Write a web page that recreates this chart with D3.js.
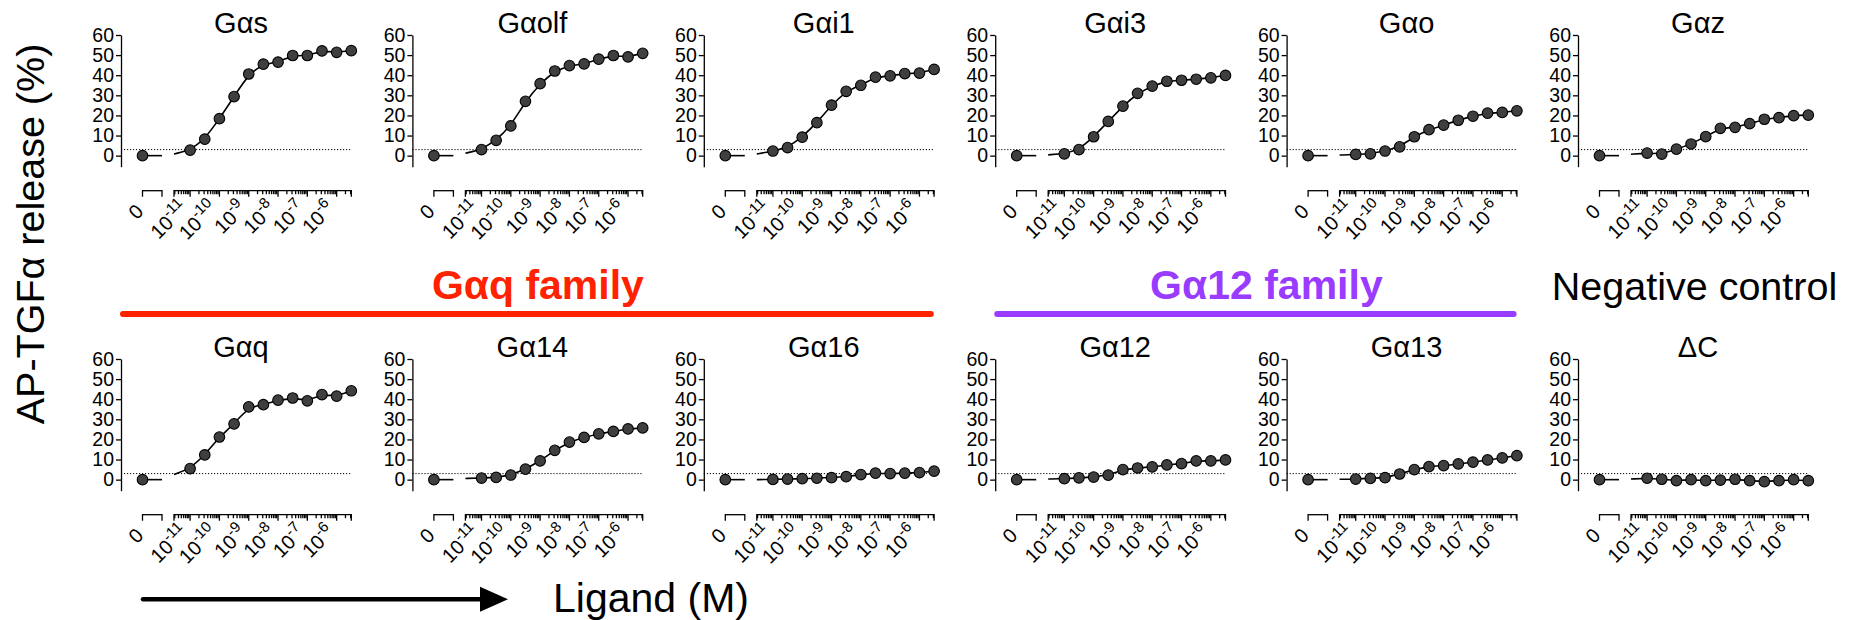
<!DOCTYPE html>
<html>
<head>
<meta charset="utf-8">
<script src="https://cdn.jsdelivr.net/npm/d3@7"></script>
<style>
  html, body { margin: 0; padding: 0; background: #fff; }
  svg { display: block; font-family: "Liberation Sans", Arial, Helvetica, sans-serif; }
</style>
</head>
<body>
<div id="chart"></div>
<script>
// AP-TGFα release dose-response, one small panel per Gα subunit

const panelTitles = ["Gαs", "Gαolf", "Gαi1", "Gαi3", "Gαo", "Gαz",
                     "Gαq", "Gα14", "Gα16", "Gα12", "Gα13", "ΔC"];
const concentrations = [1e-11, 3.16e-11, 1e-10, 3.16e-10, 1e-9, 3.16e-9,
                        1e-8, 3.16e-8, 1e-7, 3.16e-7, 1e-6, 3.16e-6];
const xTickValues = [1e-11, 1e-10, 1e-9, 1e-8, 1e-7, 1e-6];
const xTickExponents = ["-11", "-10", "-9", "-8", "-7", "-6"];
const yTickValues = [0, 10, 20, 30, 40, 50, 60];

// % release at each concentration
const releaseGs   = [2.7, 8.2, 18.4, 29.4, 40.6, 45.5, 46.5, 49.8, 49.8, 52.1, 51.4, 52.2];
const releaseGolf = [3.0, 7.6, 14.8, 27.0, 35.8, 42.1, 44.8, 45.6, 48.0, 49.8, 49.1, 50.9];
const releaseGi1  = [2.3, 4.0, 9.2, 16.4, 25.1, 32.0, 35.0, 39.0, 39.7, 40.8, 41.0, 42.9];
const releaseGi3  = [0.9, 3.0, 9.4, 17.0, 24.6, 31.0, 34.6, 37.0, 37.5, 38.0, 38.7, 39.9];
const releaseGo   = [0.6, 0.9, 2.3, 4.4, 9.4, 12.9, 15.2, 17.6, 19.6, 21.1, 21.5, 22.3];
const releaseGz   = [1.3, 0.8, 3.2, 5.8, 9.5, 13.6, 14.1, 15.9, 18.1, 18.9, 19.9, 20.2];
const releaseGq   = [5.5, 12.3, 21.2, 27.7, 36.2, 37.3, 39.5, 40.6, 39.2, 42.3, 41.5, 44.2];
const releaseG14  = [0.8, 1.1, 2.3, 5.2, 9.3, 14.6, 18.7, 21.0, 22.8, 24.0, 25.2, 25.7];
const releaseG16  = [0.1, 0.3, 0.5, 0.7, 1.0, 1.5, 2.5, 3.2, 3.0, 3.2, 3.5, 4.2];
const releaseG12  = [0.5, 0.9, 1.3, 2.2, 5.0, 5.8, 6.3, 7.3, 8.0, 9.3, 9.3, 9.8];
const releaseG13  = [0.3, 0.6, 1.0, 2.8, 5.0, 6.5, 7.0, 7.8, 8.7, 9.8, 10.8, 11.9];
const releaseDC   = [0.7, 0.2, -0.5, 0.0, -0.5, -0.2, 0.2, -0.5, -1.0, -0.5, 0.0, -0.5];

// vehicle (0 M) point, and the fitted curve's height at the left end of the log axis
const zeroDose = [0, 0, 0, 0, 0, 0, 0, 0, 0, 0, 0, 0];
const fitStart = [0.8, 1.2, 0.8, 0.4, 0.3, 0.7, 2.5, 0.6, 0.0, 0.3, 0.2, 0.3];
const threshold = 3;

const familyLabels = ["Gαq family", "Gα12 family", "Negative control"];
const familyColors = ["#ff2200", "#9a3cff", "#000000"];

const series = [releaseGs, releaseGolf, releaseGi1, releaseGi3, releaseGo, releaseGz,
                releaseGq, releaseG14, releaseG16, releaseG12, releaseG13, releaseDC];

const W = 1849, H = 620;
const colX = d3.range(6).map(i => 121 + i * 291.4);
const rowY = [0, 324];

const svg = d3.select("#chart").append("svg")
    .attr("width", W)
    .attr("height", H);

function drawPanel(g, ax, oy, title, values, zeroVal, startVal) {
    const y = d3.scaleLinear().domain([-5.5, 60]).range([oy + 166.7, oy + 35]);
    const x = d3.scaleLog().domain([Math.pow(10, -11.55), Math.pow(10, -5.5)]).range([ax + 53, ax + 230.3]);
    const xZero = ax + 21.5;
    const zeroEnd = ax + 41;
    const axisY = oy + 190.7;

    // threshold line
    g.append("line")
        .attr("x1", ax).attr("x2", x.range()[1])
        .attr("y1", y(threshold)).attr("y2", y(threshold))
        .attr("stroke", "#000").attr("stroke-width", 1)
        .attr("stroke-dasharray", "1.2 1.8");

    // y axis
    const yAxis = g.append("g")
        .attr("transform", `translate(${ax},0)`)
        .call(d3.axisLeft(y).tickValues(yTickValues).tickSize(5).tickSizeOuter(0).tickPadding(2));
    yAxis.selectAll("path, line").attr("stroke", "#000").attr("stroke-width", 1.3);
    yAxis.selectAll("text")
        .attr("font-size", 19.5)
        .attr("font-family", "Liberation Sans, Arial, sans-serif")
        .attr("fill", "#000");

    // x axis: zero segment
    const xa = g.append("g").attr("stroke", "#000").attr("stroke-width", 1.3);
    xa.append("line").attr("x1", xZero).attr("x2", zeroEnd).attr("y1", axisY).attr("y2", axisY);
    [xZero, zeroEnd].forEach(px => {
        xa.append("line").attr("x1", px).attr("x2", px).attr("y1", axisY - 0.6).attr("y2", axisY + 6);
    });

    // x axis: log segment
    xa.append("line").attr("x1", x.range()[0]).attr("x2", x.range()[1]).attr("y1", axisY).attr("y2", axisY);
    const ticks = x.ticks().filter(v => v >= x.domain()[0] && v <= x.domain()[1]);
    xa.selectAll(".tk").data(ticks).enter().append("line")
        .attr("class", "tk")
        .attr("x1", d => x(d)).attr("x2", d => x(d))
        .attr("y1", axisY - 0.6)
        .attr("y2", d => {
            const e = Math.log10(d);
            return Math.abs(e - Math.round(e)) < 1e-6 ? axisY + 6 : axisY + 3.5;
        });
    [x.range()[0], x.range()[1]].forEach(px => {
        xa.append("line").attr("x1", px).attr("x2", px).attr("y1", axisY - 0.6).attr("y2", axisY + 6);
    });

    // x labels
    g.append("text")
        .attr("transform", `translate(${xZero + 2},${axisY + 22}) rotate(-45)`)
        .attr("text-anchor", "end")
        .attr("font-size", 20)
        .text("0");
    xTickValues.forEach((v, k) => {
        const t = g.append("text")
            .attr("transform", `translate(${x(v) - 1},${axisY + 19}) rotate(-45)`)
            .attr("text-anchor", "end")
            .attr("font-size", 20);
        t.append("tspan").text("10");
        t.append("tspan").attr("font-size", 15).attr("dy", -8.5).text(xTickExponents[k]);
    });

    // fitted curve
    const pts = [[x.domain()[0], startVal]].concat(concentrations.map((c, k) => [c, values[k]]));
    const line = d3.line()
        .x(d => x(d[0]))
        .y(d => y(d[1]))
        .curve(d3.curveBasis);
    g.append("path")
        .attr("d", line(pts))
        .attr("fill", "none")
        .attr("stroke", "#000")
        .attr("stroke-width", 1.6);

    // vehicle baseline
    g.append("line")
        .attr("x1", xZero).attr("x2", zeroEnd)
        .attr("y1", y(zeroVal)).attr("y2", y(zeroVal))
        .attr("stroke", "#000").attr("stroke-width", 1.6);

    // points
    g.append("circle")
        .attr("cx", xZero).attr("cy", y(zeroVal)).attr("r", 5.3)
        .attr("fill", "#3f3f3f").attr("stroke", "#000").attr("stroke-width", 1.1);
    g.selectAll(".pt").data(concentrations).enter().append("circle")
        .attr("class", "pt")
        .attr("cx", d => x(d))
        .attr("cy", (d, k) => y(values[k]))
        .attr("r", 5.3)
        .attr("fill", "#3f3f3f")
        .attr("stroke", "#000")
        .attr("stroke-width", 1.1);

    // title
    g.append("text")
        .attr("x", ax + 120)
        .attr("y", oy + 33)
        .attr("text-anchor", "middle")
        .attr("font-size", 29)
        .text(title);
}

panelTitles.forEach((title, i) => {
    const col = i % 6, row = Math.floor(i / 6);
    drawPanel(svg.append("g"), colX[col], rowY[row], title, series[i], zeroDose[i], fitStart[i]);
});

// family bars between the rows
const familySpans = [[0, 2], [3, 4]];
familySpans.forEach((span, i) => {
    const x1 = colX[span[0]] + 2;
    const x2 = colX[span[1]] + 227;
    svg.append("line")
        .attr("x1", x1).attr("x2", x2)
        .attr("y1", 314).attr("y2", 314)
        .attr("stroke", familyColors[i])
        .attr("stroke-width", 6)
        .attr("stroke-linecap", "round");
    svg.append("text")
        .attr("x", (x1 + x2) / 2 + 11)
        .attr("y", 299)
        .attr("text-anchor", "middle")
        .attr("font-size", 41)
        .attr("font-weight", "bold")
        .attr("fill", familyColors[i])
        .text(familyLabels[i]);
});
svg.append("text")
    .attr("x", colX[5] + 116.5)
    .attr("y", 300)
    .attr("text-anchor", "middle")
    .attr("font-size", 39.5)
    .attr("fill", familyColors[2])
    .text(familyLabels[2]);

// y axis title
svg.append("text")
    .attr("transform", "translate(44,234) rotate(-90)")
    .attr("text-anchor", "middle")
    .attr("font-size", 39.5)
    .text("AP-TGFα release (%)");

// ligand arrow
svg.append("line")
    .attr("x1", 143).attr("x2", 484)
    .attr("y1", 599.3).attr("y2", 599.3)
    .attr("stroke", "#000")
    .attr("stroke-width", 4.5)
    .attr("stroke-linecap", "round");
svg.append("path")
    .attr("d", "M480,586.8 L508,599.3 L480,611.8 Z")
    .attr("fill", "#000");
svg.append("text")
    .attr("x", 553)
    .attr("y", 612)
    .attr("font-size", 41)
    .text("Ligand (M)");
</script>
</body>
</html>
